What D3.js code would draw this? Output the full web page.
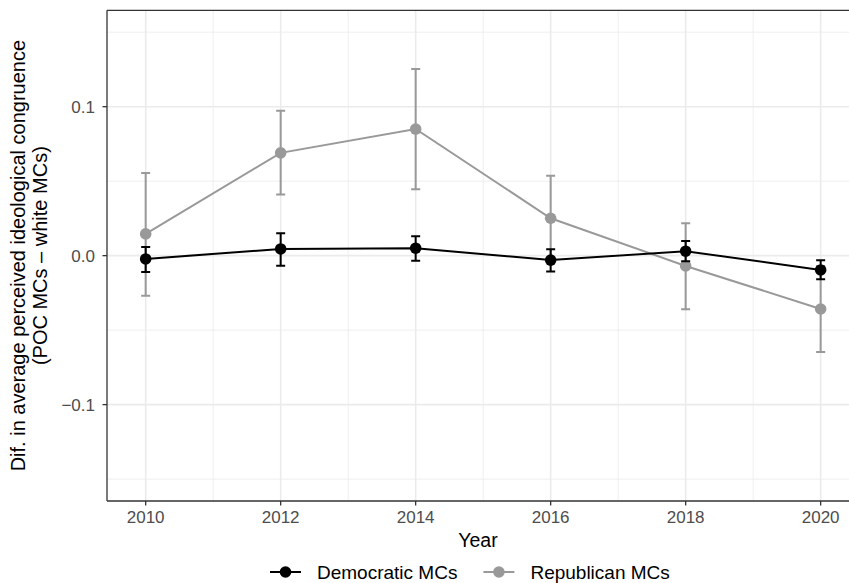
<!DOCTYPE html>
<html>
<head>
<meta charset="utf-8">
<script src="https://cdn.jsdelivr.net/npm/d3@7"></script>
<style>
  body { margin: 0; background: #fff; }
  svg { font-family: "Liberation Sans", Arial, sans-serif; }
</style>
</head>
<body>
<svg id="chart" width="849" height="583"></svg>
<script>
const years = [2010, 2012, 2014, 2016, 2018, 2020];

const demEst = [-0.0022, 0.0045, 0.0050, -0.0030, 0.0030, -0.0096];
const demLo  = [-0.0110, -0.0067, -0.0034, -0.0107, -0.0038, -0.0158];
const demHi  = [0.0058, 0.0150, 0.0130, 0.0043, 0.0099, -0.0031];

const repEst = [0.0146, 0.0690, 0.0850, 0.0251, -0.0069, -0.0358];
const repLo  = [-0.0270, 0.0410, 0.0446, -0.0035, -0.0360, -0.0646];
const repHi  = [0.0555, 0.0973, 0.1253, 0.0537, 0.0217, -0.0070];

const xTicks = [2010, 2012, 2014, 2016, 2018, 2020];
const xMinor = [2011, 2013, 2015, 2017, 2019];
const yTicks = [-0.1, 0, 0.1];
const yMinor = [-0.15, -0.05, 0.05, 0.15];

const series = [
  { name: "Republican MCs", color: "#999999", est: repEst, lo: repLo, hi: repHi },
  { name: "Democratic MCs", color: "#000000", est: demEst, lo: demLo, hi: demHi }
];

const svg = d3.select("#chart");
const pLeft = 107, pRight = 849, pTop = 10.3, pBottom = 501;

const x = d3.scaleLinear().domain([2009.427, 2020.42]).range([pLeft, pRight]);
const y = d3.scaleLinear().domain([-0.1647, 0.1647]).range([pBottom, pTop]);

// grid
const grid = svg.append("g");
grid.selectAll(".ymin").data(yMinor).enter().append("line")
  .attr("x1", pLeft).attr("x2", pRight)
  .attr("y1", d => y(d)).attr("y2", d => y(d))
  .attr("stroke", "#ebebeb").attr("stroke-width", 0.8);
grid.selectAll(".xmin").data(xMinor).enter().append("line")
  .attr("y1", pTop).attr("y2", pBottom)
  .attr("x1", d => x(d)).attr("x2", d => x(d))
  .attr("stroke", "#ebebeb").attr("stroke-width", 0.8);
grid.selectAll(".ymaj").data(yTicks).enter().append("line")
  .attr("x1", pLeft).attr("x2", pRight)
  .attr("y1", d => y(d)).attr("y2", d => y(d))
  .attr("stroke", "#ebebeb").attr("stroke-width", 1.6);
grid.selectAll(".xmaj").data(xTicks).enter().append("line")
  .attr("y1", pTop).attr("y2", pBottom)
  .attr("x1", d => x(d)).attr("x2", d => x(d))
  .attr("stroke", "#ebebeb").attr("stroke-width", 1.6);

// series: grey first so the black one sits on top
series.forEach(s => {
  const g = svg.append("g");
  const pts = years.map((yr, i) => ({ yr, est: s.est[i], lo: s.lo[i], hi: s.hi[i] }));
  const cap = 4.5;
  g.selectAll(".eb").data(pts).enter().append("path")
    .attr("d", d => `M${x(d.yr) - cap},${y(d.hi)}H${x(d.yr) + cap}M${x(d.yr)},${y(d.hi)}V${y(d.lo)}M${x(d.yr) - cap},${y(d.lo)}H${x(d.yr) + cap}`)
    .attr("fill", "none").attr("stroke", s.color).attr("stroke-width", 2);
  g.append("path").datum(pts)
    .attr("d", d3.line().x(d => x(d.yr)).y(d => y(d.est)))
    .attr("fill", "none").attr("stroke", s.color).attr("stroke-width", 2);
  g.selectAll("circle").data(pts).enter().append("circle")
    .attr("cx", d => x(d.yr)).attr("cy", d => y(d.est))
    .attr("r", 5.8).attr("fill", s.color);
});

// axis lines (left, bottom, top)
svg.append("line").attr("x1", pLeft).attr("x2", pLeft).attr("y1", pTop).attr("y2", pBottom)
  .attr("stroke", "#333").attr("stroke-width", 1.3);
svg.append("line").attr("x1", pLeft).attr("x2", pRight).attr("y1", pBottom).attr("y2", pBottom)
  .attr("stroke", "#333").attr("stroke-width", 1.3);
svg.append("line").attr("x1", pLeft).attr("x2", pRight).attr("y1", pTop).attr("y2", pTop)
  .attr("stroke", "#333").attr("stroke-width", 1.3);

// ticks
const xAxis = svg.append("g");
xAxis.selectAll("line").data(xTicks).enter().append("line")
  .attr("x1", d => x(d)).attr("x2", d => x(d))
  .attr("y1", pBottom).attr("y2", pBottom + 4.5)
  .attr("stroke", "#333").attr("stroke-width", 1.3);
xAxis.selectAll("text").data(xTicks).enter().append("text")
  .attr("x", d => x(d)).attr("y", 523)
  .attr("text-anchor", "middle").attr("fill", "#4d4d4d")
  .attr("font-size", 17).text(d => d);

const yAxis = svg.append("g");
yAxis.selectAll("line").data(yTicks).enter().append("line")
  .attr("x1", pLeft - 4.5).attr("x2", pLeft)
  .attr("y1", d => y(d)).attr("y2", d => y(d))
  .attr("stroke", "#333").attr("stroke-width", 1.3);
yAxis.selectAll("text").data(yTicks).enter().append("text")
  .attr("x", 95).attr("y", d => y(d) + 6)
  .attr("text-anchor", "end").attr("fill", "#4d4d4d")
  .attr("font-size", 17).text(d => d3.format(".1f")(d).replace("-", "\u2212"));

// axis titles
svg.append("text").attr("x", (pLeft + pRight) / 2).attr("y", 547)
  .attr("text-anchor", "middle").attr("font-size", 19.5).attr("fill", "#000").text("Year");
const yt = svg.append("text").attr("transform", `translate(0,${(pTop + pBottom) / 2}) rotate(-90)`)
  .attr("text-anchor", "middle").attr("font-size", 20).attr("fill", "#000");
yt.append("tspan").attr("x", 0).attr("y", 25).text("Dif. in average perceived ideological congruence");
yt.append("tspan").attr("x", 0).attr("y", 47).text("(POC MCs \u2013 white MCs)");

// legend
const legendItems = [series[1], series[0]];
const legend = svg.append("g");
const lgY = 572;
let lx = 270;
legendItems.forEach(s => {
  legend.append("line").attr("x1", lx).attr("x2", lx + 31)
    .attr("y1", lgY).attr("y2", lgY).attr("stroke", s.color).attr("stroke-width", 2);
  legend.append("circle").attr("cx", lx + 15.5).attr("cy", lgY).attr("r", 5.8).attr("fill", s.color);
  const t = legend.append("text").attr("x", lx + 47).attr("y", lgY + 6.5)
    .attr("font-size", 19).attr("fill", "#000").text(s.name);
  lx = lx + 47 + t.node().getComputedTextLength() + 26;
});
</script>
</body>
</html>
